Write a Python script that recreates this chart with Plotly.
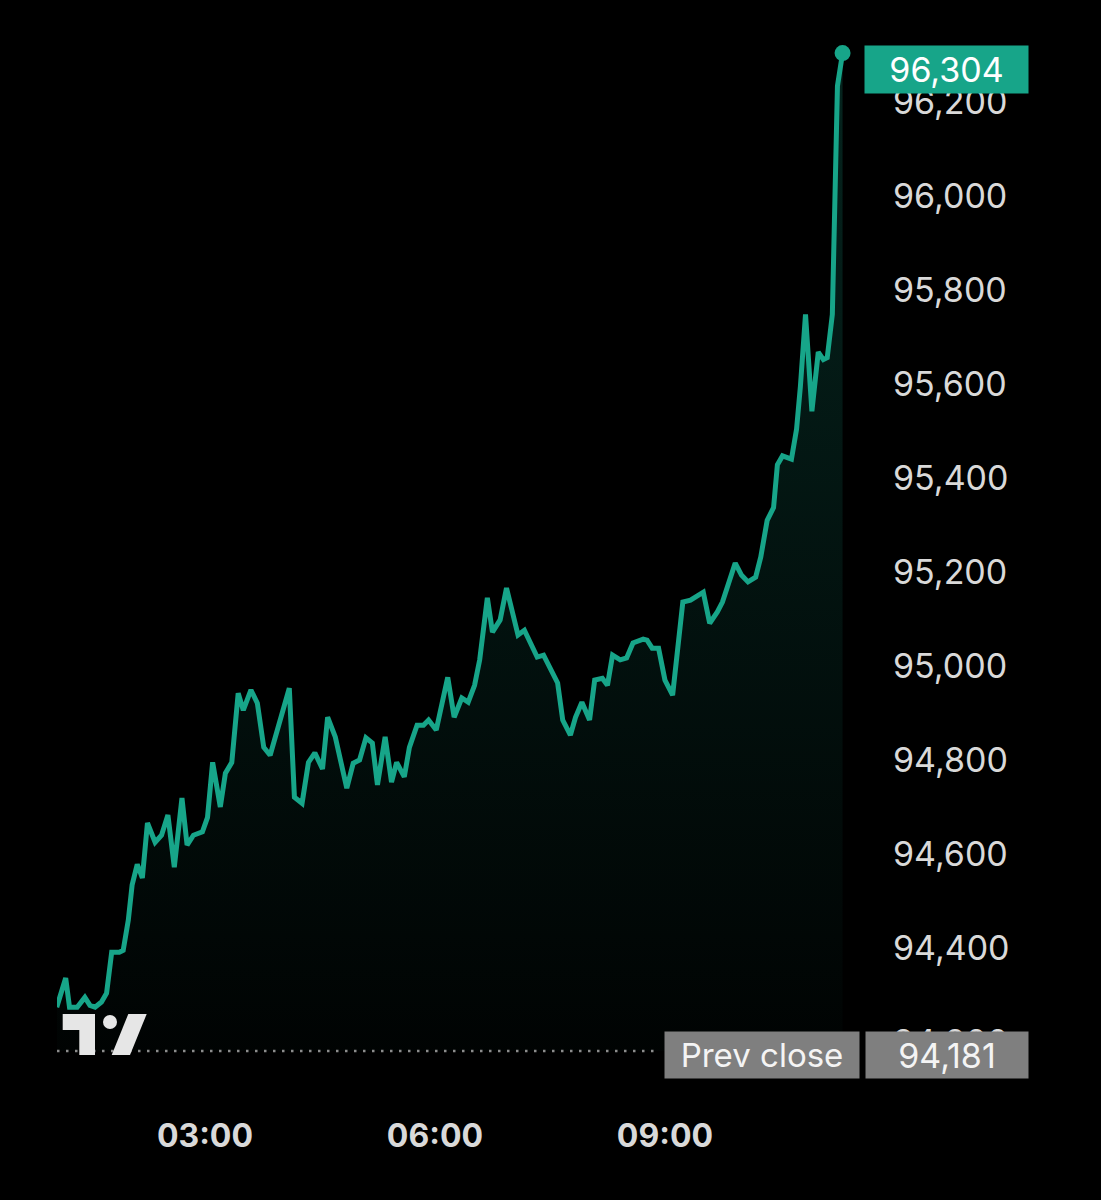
"""Intraday price chart, TradingView mobile style, rebuilt with Plotly."""

import plotly.graph_objects as go

DAY = "2024-11-12"

# ---- data ----
TIMES = [
    "01:04", "01:11", "01:14", "01:20", "01:26", "01:30", "01:34", "01:39", "01:43", "01:47",
    "01:53", "01:56", "02:00", "02:03", "02:07", "02:11", "02:15", "02:21", "02:26", "02:31",
    "02:36", "02:42", "02:46", "02:51", "02:58", "03:02", "03:06", "03:12", "03:16", "03:21",
    "03:26", "03:30", "03:36", "03:41", "03:46", "03:51", "04:06", "04:10", "04:16", "04:21",
    "04:26", "04:32", "04:36", "04:42", "04:51", "04:56", "05:01", "05:06", "05:11", "05:15",
    "05:21", "05:26", "05:30", "05:36", "05:40", "05:46", "05:51", "05:55", "06:01", "06:10",
    "06:15", "06:21", "06:26", "06:31", "06:35", "06:41", "06:45", "06:51", "06:56", "07:05",
    "07:10", "07:20", "07:25", "07:32", "07:36", "07:40", "07:46", "07:50", "07:55", "08:01",
    "08:05", "08:11", "08:15", "08:19", "08:25", "08:30", "08:35", "08:43", "08:46", "08:50",
    "08:55", "09:00", "09:06", "09:14", "09:20", "09:30", "09:35", "09:41", "09:45", "09:55",
    "10:00", "10:05", "10:11", "10:15", "10:20", "10:25", "10:28", "10:32", "10:39", "10:43",
    "10:46", "10:50", "10:55", "11:00", "11:04", "11:07", "11:11", "11:15", "11:19",
]
PRICES = [
    94274, 94336, 94274, 94274, 94295, 94278, 94274, 94285, 94304, 94391,
    94391, 94395, 94459, 94534, 94578, 94549, 94666, 94625, 94640, 94683,
    94572, 94719, 94619, 94640, 94647, 94678, 94795, 94700, 94772, 94795,
    94942, 94906, 94949, 94921, 94827, 94810, 94953, 94721, 94708, 94795,
    94815, 94781, 94891, 94849, 94740, 94793, 94800, 94847, 94836, 94747,
    94849, 94753, 94795, 94764, 94827, 94874, 94874, 94885, 94864, 94976,
    94891, 94932, 94923, 94959, 95013, 95145, 95072, 95098, 95166, 95066,
    95076, 95019, 95023, 94987, 94964, 94885, 94853, 94891, 94923, 94885,
    94970, 94974, 94959, 95023, 95013, 95017, 95049, 95057, 95055, 95038,
    95038, 94970, 94938, 95136, 95140, 95157, 95091, 95115, 95136, 95219,
    95193, 95179, 95189, 95232, 95310, 95337, 95428, 95447, 95440, 95504,
    95595, 95748, 95542, 95668, 95652, 95656, 95748, 96234, 96304,
]
LAST_PRICE = 96304
PREV_CLOSE = 94181
X_TICKS = ["03:00", "06:00", "09:00"]
Y_TICKS = [94200, 94400, 94600, 94800, 95000, 95200, 95400, 95600, 95800, 96000, 96200]

# ---- look ----
W, H = 1101, 1200
L, R, T, B = 57, 221, 10, 86
PW, PH = W - L - R, H - T - B
TEAL = "#17a589"
BOX_GREY = "#7f7f7f"
TXT = "#d9d9d9"
FONT = "Inter, 'Noto Sans', sans-serif"

# vertical scale: 200 per 94 px, 96,200 sits at y=102 px
Y_TOP = 96200 + (102 - T) * 200 / 94
Y_BOT = 96200 - (H - B - 102) * 200 / 94


def px_x(p):
    return (p - L) / PW


def px_y(p):
    return (H - B - p) / PH


xs = [f"{DAY} {t}" for t in TIMES]

fig = go.Figure()
# invisible baseline at prev close so the gradient fill stops there
fig.add_trace(go.Scatter(
    x=xs, y=[PREV_CLOSE] * len(xs), mode="lines",
    line=dict(width=0, color="rgba(0,0,0,0)"), hoverinfo="skip", showlegend=False,
))
fig.add_trace(go.Scatter(
    x=xs, y=PRICES, mode="lines",
    line=dict(color=TEAL, width=5),
    fill="tonexty",
    fillgradient=dict(
        type="vertical", start=PREV_CLOSE, stop=LAST_PRICE,
        colorscale=[[0, "rgba(23,165,137,0.02)"], [1, "rgba(23,165,137,0.22)"]],
    ),
    hoverinfo="skip", showlegend=False,
))
fig.add_trace(go.Scatter(
    x=[xs[-1]], y=[LAST_PRICE], mode="markers",
    marker=dict(color=TEAL, size=16), hoverinfo="skip", showlegend=False,
))

# prev close dotted line
fig.add_shape(type="line", xref="paper", yref="y", x0=0, x1=px_x(660),
              y0=PREV_CLOSE, y1=PREV_CLOSE,
              line=dict(color="#8c8c8c", width=2.5, dash="2.5px,6.5px"))

# TradingView logo
LOGO = "#e6e6e6"
logo_paths = [
    [(62.7, 1014), (95, 1014), (95, 1055), (79.3, 1055), (79.3, 1030), (62.7, 1030)],
    [(128.3, 1014), (146.7, 1014), (130, 1055), (111.7, 1055)],
]
for pts in logo_paths:
    d = "M " + " L ".join(f"{px_x(a):.5f},{px_y(b):.5f}" for a, b in pts) + " Z"
    fig.add_shape(type="path", xref="paper", yref="paper", path=d,
                  fillcolor=LOGO, line=dict(width=0))
fig.add_shape(type="circle", xref="paper", yref="paper",
              x0=px_x(103), x1=px_x(117), y0=px_y(1029), y1=px_y(1015),
              fillcolor=LOGO, line=dict(width=0))

# price labels on the right
fig.add_annotation(
    xref="paper", yref="paper", x=px_x(864), y=px_y(45), xanchor="left", yanchor="top",
    text=f"{LAST_PRICE:,}", showarrow=False, align="center",
    width=155, height=39, borderpad=4, bgcolor=TEAL,
    font=dict(family=FONT, size=34, color="white"),
)
fig.add_annotation(
    xref="paper", yref="paper", x=px_x(664), y=px_y(1031), xanchor="left", yanchor="top",
    text="Prev close", showarrow=False, align="center",
    width=186, height=38, borderpad=4, bgcolor=BOX_GREY,
    font=dict(family=FONT, size=33, color="#f4f4f4"),
)
fig.add_annotation(
    xref="paper", yref="paper", x=px_x(865), y=px_y(1031), xanchor="left", yanchor="top",
    text=f"{PREV_CLOSE:,}", showarrow=False, align="center",
    width=154, height=38, borderpad=4, bgcolor=BOX_GREY,
    font=dict(family=FONT, size=34, color="#f4f4f4"),
)

fig.update_layout(
    width=W, height=H,
    paper_bgcolor="black", plot_bgcolor="black",
    margin=dict(l=L, r=R, t=T, b=B),
    font=dict(family=FONT, color=TXT),
    hovermode=False,
    xaxis=dict(
        type="date",
        range=[f"{DAY} 01:04:12", f"{DAY} 11:48:18"],
        tickvals=[f"{DAY} {t}" for t in X_TICKS], ticktext=X_TICKS,
        showgrid=False, zeroline=False, showline=False, ticks="",
        tickfont=dict(family=FONT, size=32, color=TXT, weight="bold"),
        ticklabelstandoff=0,
    ),
    yaxis=dict(
        side="right", range=[Y_BOT, Y_TOP],
        tickvals=Y_TICKS, tickformat=",d",
        showgrid=False, zeroline=False, showline=False, ticks="",
        tickfont=dict(family=FONT, size=34, color=TXT),
        ticklabelstandoff=12,
    ),
)

fig.write_html("out.html", config={"displayModeBar": False},
               post_script="document.body.style.margin='0px';")
